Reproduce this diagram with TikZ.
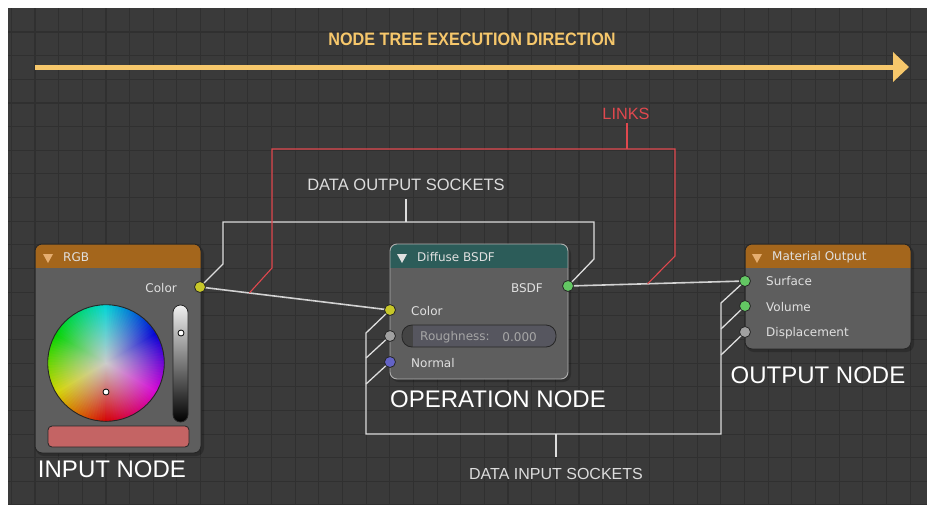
\documentclass[tikz,border=0pt]{standalone}
\usepackage{fontspec}
\setmainfont{Liberation Sans}
\newfontfamily\uifont{DejaVu Sans}
\newfontfamily\titlefont[FakeStretch=0.9]{Liberation Sans}
\usetikzlibrary{calc,fadings,arrows.meta}

\definecolor{paper}{HTML}{FFFFFF}
\definecolor{bgc}{HTML}{3A3A3A}
\definecolor{gridc}{HTML}{303030}
\definecolor{flowc}{HTML}{F6C76B}
\definecolor{redc}{HTML}{E0484E}
\definecolor{notec}{HTML}{DDDDDD}
\definecolor{wirec}{HTML}{D2D2D2}
\definecolor{bodyc}{HTML}{5E5E5E}
\definecolor{edgec}{HTML}{262626}
\definecolor{seledge}{HTML}{AFAFAF}
\definecolor{orangehead}{HTML}{A4661C}
\definecolor{tealhead}{HTML}{2C5C59}
\definecolor{orangetri}{HTML}{E6AE70}
\definecolor{uitextc}{HTML}{E0E0E0}
\definecolor{dimtext}{HTML}{A6A6A6}
\definecolor{sockyellow}{HTML}{C7C729}
\definecolor{sockgreen}{HTML}{63C763}
\definecolor{sockgray}{HTML}{A1A1A1}
\definecolor{sockblue}{HTML}{6363C7}
\definecolor{swatchc}{HTML}{C46464}
\definecolor{wheelmid}{HTML}{CCCCCC}
\definecolor{fieldc}{HTML}{56565F}
\definecolor{fielddark}{HTML}{444444}

% radial fade: opaque centre, transparent rim
\tikzfading[name=wheelfade, inner color=transparent!0, outer color=transparent!100]

\tikzset{
  gridline/.style={draw=gridc, line width=1.1pt},
  flow/.style={draw=flowc, line width=5pt, -{Triangle[length=16pt,width=29pt]}},
  wire/.style={draw=wirec, line width=1.6pt},
  note/.style={draw=notec, line width=1.3pt},
  linknote/.style={draw=redc, line width=1.1pt},
  nodebody/.style={fill=bodyc, rounded corners=7pt},
  nodeedge/.style={draw=edgec, line width=1pt, rounded corners=7pt},
  socket/.style={circle, draw=edgec, line width=0.8pt, minimum size=11pt, inner sep=0pt},
  uitext/.style={text=uitextc, font=\uifont\fontsize{12}{14}\selectfont, inner sep=0pt},
  bigtext/.style={text=white, font=\fontsize{24}{28}\selectfont, inner sep=0pt},
  anno/.style={text=notec, inner sep=0pt},
}

\begin{document}
\begin{tikzpicture}[x=1pt, y=-1pt]
\useasboundingbox (0,0) rectangle (927,504);
\fill[paper] (0,0) rectangle (927,504);
\fill[bgc] (8,8) rectangle (927,504);

% editor grid
\begin{scope}
  \clip (8,8) rectangle (927,504);
  \foreach \k in {0,...,38} \draw[gridline] ({11.35+\k*23.65},8) -- ({11.35+\k*23.65},504);
  \foreach \k in {1,...,21} \draw[gridline] (8,{8.35+\k*23.65}) -- (927,{8.35+\k*23.65});
\end{scope}

% execution direction
\node[text=flowc, font=\titlefont\bfseries\fontsize{18}{20}\selectfont, inner sep=0pt] (title) at (472,39) {NODE TREE EXECUTION DIRECTION};
\coordinate (flowStart) at (35,67);
\coordinate (flowEnd) at (909,67);
\draw[flow] (flowStart) -- (flowEnd);

% socket positions
\coordinate (rgbColor) at (200,287);
\coordinate (bsdfOut) at (568,286);
\coordinate (dfColor) at (390,310);
\coordinate (dfRough) at (390,336);
\coordinate (dfNormal) at (390,362);
\coordinate (surfIn) at (745,281);
\coordinate (volIn) at (745,306);
\coordinate (dispIn) at (745,332);

% ---------- RGB input node ----------
\fill[black, opacity=0.22, rounded corners=8pt] (36,246) rectangle (204,456);
\fill[nodebody] (35,244) rectangle (201,453);
\begin{scope}
  \clip[rounded corners=7pt] (35,244) rectangle (201,453);
  \fill[orangehead] (35,244) rectangle (201,268);
\end{scope}
\draw[nodeedge] (35,244) rectangle (201,453);
\fill[orangetri] (43,254) -- (53,254) -- (48,263) -- cycle;
\node[uitext, anchor=west] (rgbTitle) at (63,257) {RGB};
\node[uitext, anchor=east] (rgbColorLbl) at (177,288.5) {Color};

% colour wheel
\coordinate (wheel) at (106,363);
\begin{scope}
  \clip (wheel) circle[radius=58.3pt];
  \foreach \h in {0,3,...,357}{
    \definecolor{wc}{Hsb}{\h,1,0.84}
    \fill[wc] (wheel) -- ($(wheel)+({\h+88}:61)$) -- ($(wheel)+({\h+92.5}:61)$) -- cycle;
  }
  \fill[wheelmid, path fading=wheelfade] (wheel) circle[radius=58.3pt];
\end{scope}
\draw[edgec, line width=0.9pt] (wheel) circle[radius=58.3pt];
\filldraw[fill=white, draw=black, line width=0.8pt] (106,392) circle[radius=3pt];

% value slider
\shade[top color=white!94!black, bottom color=black, rounded corners=7.5pt] (173,305) rectangle (188,422);
\draw[edgec, line width=0.8pt, rounded corners=7.5pt] (173,305) rectangle (188,422);
\filldraw[fill=white, draw=black, line width=0.8pt] (181,333) circle[radius=3pt];

% colour swatch
\fill[swatchc, rounded corners=4pt] (48,426) rectangle (189,447);
\draw[edgec, line width=0.8pt, rounded corners=4pt] (48,426) rectangle (189,447);

\node[bigtext] (inputLbl) at (112,469) {INPUT NODE};

% ---------- Diffuse BSDF operation node ----------
\fill[black, opacity=0.22, rounded corners=8pt] (391,246) rectangle (571,382);
\fill[nodebody] (390,244) rectangle (568,379);
\begin{scope}
  \clip[rounded corners=7pt] (390,244) rectangle (568,379);
  \fill[tealhead] (390,244) rectangle (568,268);
\end{scope}
\draw[draw=seledge, line width=0.9pt, rounded corners=7pt] (390,244) rectangle (568,379);
\fill[uitextc] (397,254) -- (407,254) -- (402,263) -- cycle;
\node[uitext, anchor=west] (dfTitle) at (417,257) {Diffuse BSDF};
\node[uitext, anchor=east] (bsdfLbl) at (543,288) {BSDF};
\node[uitext, anchor=west] (dfColorLbl) at (411,311) {Color};
\node[uitext, anchor=west] (dfNormalLbl) at (411,363) {Normal};

% roughness field
\begin{scope}
  \clip[rounded corners=10pt] (402,325) rectangle (556,347);
  \fill[fieldc] (402,325) rectangle (556,347);
  \fill[fielddark] (402,325) rectangle (413,347);
\end{scope}
\draw[edgec, line width=0.8pt, rounded corners=10pt] (402,325) rectangle (556,347);
\node[uitext, text=dimtext, anchor=west] (roughLbl) at (420,337) {Roughness:};
\node[uitext, text=dimtext, anchor=east] (roughVal) at (537,337) {0.000};

\node[bigtext] (operationLbl) at (498,399) {OPERATION NODE};

% ---------- Material Output node ----------
\fill[black, opacity=0.22, rounded corners=8pt] (746,246) rectangle (914,352);
\fill[nodebody] (745,244) rectangle (911,349);
\begin{scope}
  \clip[rounded corners=7pt] (745,244) rectangle (911,349);
  \fill[orangehead] (745,244) rectangle (911,268);
\end{scope}
\draw[nodeedge] (745,244) rectangle (911,349);
\fill[orangetri] (752,254) -- (762,254) -- (757,263) -- cycle;
\node[uitext, anchor=west] (matTitle) at (772,257) {Material Output};
\node[uitext, anchor=west] (surfLbl) at (766,281) {Surface};
\node[uitext, anchor=west] (volLbl) at (766,307) {Volume};
\node[uitext, anchor=west] (dispLbl) at (766,333) {Displacement};

\node[bigtext] (outputLbl) at (818,375) {OUTPUT NODE};

% ---------- links ----------
\draw[wire] (rgbColor) -- (dfColor);
\draw[wire] (bsdfOut) -- (surfIn);

% ---------- annotations ----------
\node[anno, font=\fontsize{16.5}{18}\selectfont] (outSockLbl) at (406,185) {DATA OUTPUT SOCKETS};
\draw[note] (406,199) -- (406,222);
\draw[note] (rgbColor) -- (223,264) -- (223,222) -- (594,222) -- (594,259) -- (bsdfOut);

\node[anno, font=\fontsize{16}{18}\selectfont] (inSockLbl) at (556,474) {DATA INPUT SOCKETS};
\draw[note] (556,434) -- (556,457);
\draw[note] (dfColor) -- (366,333) -- (366,434) -- (721,434) -- (721,303) -- (surfIn);
\draw[note] (dfRough) -- (366,358);
\draw[note] (dfNormal) -- (366,384);
\draw[note] (volIn) -- (721,329);
\draw[note] (dispIn) -- (721,355);

\node[text=redc, inner sep=0pt, font=\fontsize{16.3}{18}\selectfont] (linksLbl) at (626,114) {LINKS};
\coordinate (linkA) at ($(rgbColor)!0.26!(dfColor)$);
\coordinate (linkB) at ($(bsdfOut)!0.45!(surfIn)$);
\draw[linknote] (627,123) -- (627,149);
\draw[linknote] (linkA) -- (272,268) -- (272,149) -- (675,149) -- (675,256) -- (linkB);

% ---------- sockets ----------
\node[socket, fill=sockyellow] (rgbColorS) at (rgbColor) {};
\node[socket, fill=sockgreen] (bsdfOutS) at (bsdfOut) {};
\node[socket, fill=sockyellow] (dfColorS) at (dfColor) {};
\node[socket, fill=sockgray] (dfRoughS) at (dfRough) {};
\node[socket, fill=sockblue] (dfNormalS) at (dfNormal) {};
\node[socket, fill=sockgreen] (surfInS) at (surfIn) {};
\node[socket, fill=sockgreen] (volInS) at (volIn) {};
\node[socket, fill=sockgray] (dispInS) at (dispIn) {};
\end{tikzpicture}
\end{document}
